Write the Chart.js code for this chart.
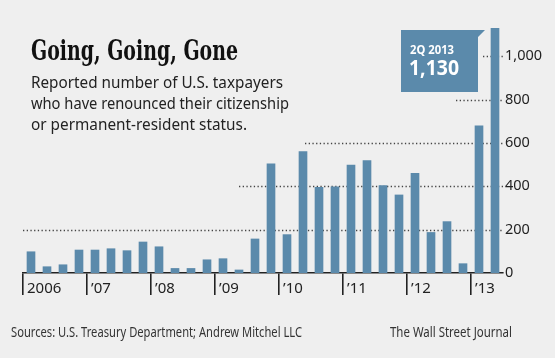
<!DOCTYPE html>
<html>
<head>
<meta charset="utf-8">
<script src="https://cdn.jsdelivr.net/npm/chart.js@4/dist/chart.umd.min.js"></script>
<style>
  html, body { margin: 0; padding: 0; background: #efefef; }
  #wrap { position: relative; width: 555px; height: 358px; }
</style>
</head>
<body>
<div id="wrap"><canvas id="chart" width="555" height="358"></canvas></div>
<script>
// quarterly data, 2006 Q1 .. 2013 Q2
const quarters = [
  "Q1 2006", "Q2 2006", "Q3 2006", "Q4 2006",
  "Q1 2007", "Q2 2007", "Q3 2007", "Q4 2007",
  "Q1 2008", "Q2 2008", "Q3 2008", "Q4 2008",
  "Q1 2009", "Q2 2009", "Q3 2009", "Q4 2009",
  "Q1 2010", "Q2 2010", "Q3 2010", "Q4 2010",
  "Q1 2011", "Q2 2011", "Q3 2011", "Q4 2011",
  "Q1 2012", "Q2 2012", "Q3 2012", "Q4 2012",
  "Q1 2013", "Q2 2013"
];
const renounced = [
  98, 29, 38, 106,
  106, 112, 103, 143,
  121, 21, 21, 61,
  66, 14, 157, 503,
  177, 560, 395, 398,
  498, 518, 403, 360,
  460, 187, 237, 43,
  679, 1130
];
const yearLabels = ["2006", "’07", "’08", "’09", "’10", "’11", "’12", "’13"];
const yTicks = [0, 200, 400, 600, 800, 1000];

const title = "Going, Going, Gone";
const subtitle = [
  "Reported number of U.S. taxpayers",
  "who have renounced their citizenship",
  "or permanent-resident status."
];
const calloutPeriod = "2Q 2013";
const calloutValue = "1,130";
const source = "Sources: U.S. Treasury Department; Andrew Mitchel LLC";
const credit = "The Wall Street Journal";

const barColor = "#5b8aab";
const ink = "#222";
const sans = "'Noto Sans', 'Open Sans', sans-serif";

// dotted guide lines: each one starts at its own x (px) and runs to the plot's right edge
const gridStart = { 200: 23, 400: 239, 600: 305, 800: 456, 1000: 483 };

const dottedGrid = {
  id: "dottedGrid",
  beforeDatasetsDraw(chart) {
    const { ctx, chartArea, scales } = chart;
    ctx.save();
    ctx.strokeStyle = "#444";
    ctx.lineWidth = 1.3;
    ctx.setLineDash([1.3, 2.4]);
    for (const v of yTicks) {
      if (!gridStart[v]) continue;
      const y = Math.round(scales.y.getPixelForValue(v)) + 0.5;
      ctx.beginPath();
      ctx.moveTo(gridStart[v], y);
      ctx.lineTo(chartArea.right, y);
      ctx.stroke();
    }
    ctx.restore();
  }
};

const decorations = {
  id: "decorations",
  afterDraw(chart) {
    const { ctx } = chart;
    ctx.save();
    ctx.fillStyle = "#111";
    ctx.textBaseline = "alphabetic";
    ctx.textAlign = "left";

    ctx.font = "bold 27px 'DejaVu Serif', 'Liberation Serif', serif";
    ctx.fillText(title, 31, 60, 207);

    ctx.fillStyle = ink;
    ctx.font = "15.5px " + sans;
    const widths = [252, 258, 216];
    subtitle.forEach((line, i) => ctx.fillText(line, 31, 87.5 + i * 21, widths[i]));

    ctx.fillStyle = "#333";
    ctx.font = "14px " + sans;
    ctx.fillText(source, 11, 337, 291);
    ctx.textAlign = "right";
    ctx.fillText(credit, 512, 337, 122);

    // callout flag
    ctx.fillStyle = barColor;
    ctx.beginPath();
    ctx.moveTo(401, 30);
    ctx.lineTo(485, 30);
    ctx.lineTo(478, 37);
    ctx.lineTo(478, 92);
    ctx.lineTo(401, 92);
    ctx.closePath();
    ctx.fill();

    ctx.fillStyle = "#fff";
    ctx.textAlign = "left";
    ctx.font = "bold 12px " + sans;
    ctx.fillText(calloutPeriod, 410, 53.5, 44);
    ctx.font = "bold 22px " + sans;
    ctx.fillText(calloutValue, 409, 74.5, 50);
    ctx.restore();
  }
};

new Chart(document.getElementById("chart"), {
  type: "bar",
  data: {
    labels: quarters,
    datasets: [{
      data: renounced,
      backgroundColor: barColor,
      barThickness: 8,
      borderWidth: 0
    }]
  },
  options: {
    responsive: false,
    animation: false,
    layout: { padding: { left: 23, top: 28, right: 0, bottom: 55 } },
    plugins: {
      legend: { display: false },
      tooltip: { enabled: false }
    },
    scales: {
      x: {
        offset: true,
        grid: {
          offset: true,
          drawOnChartArea: false,
          tickLength: 22,
          lineWidth: 1.6,
          color: (c) => (c.index !== undefined && c.index % 4 === 0 ? ink : "rgba(0,0,0,0)")
        },
        border: { color: ink, width: 1.6 },
        ticks: {
          autoSkip: false,
          maxRotation: 0,
          align: "start",
          labelOffset: -4,
          padding: -15,
          color: ink,
          font: { family: sans, size: 15 },
          callback: (v, i) => (i % 4 === 0 ? yearLabels[i / 4] : "")
        },
        afterFit: (s) => { s.height = 30; }
      },
      y: {
        position: "right",
        min: 0,
        max: 1130,
        grid: { display: false, drawTicks: false },
        border: { display: false },
        afterBuildTicks: (s) => { s.ticks = yTicks.map((v) => ({ value: v })); },
        ticks: {
          padding: 2,
          color: ink,
          font: { family: sans, size: 14.5 },
          callback: (v) => v.toLocaleString("en-US")
        },
        afterFit: (s) => { s.width = 52; }
      }
    }
  },
  plugins: [dottedGrid, decorations]
});
</script>
</body>
</html>
